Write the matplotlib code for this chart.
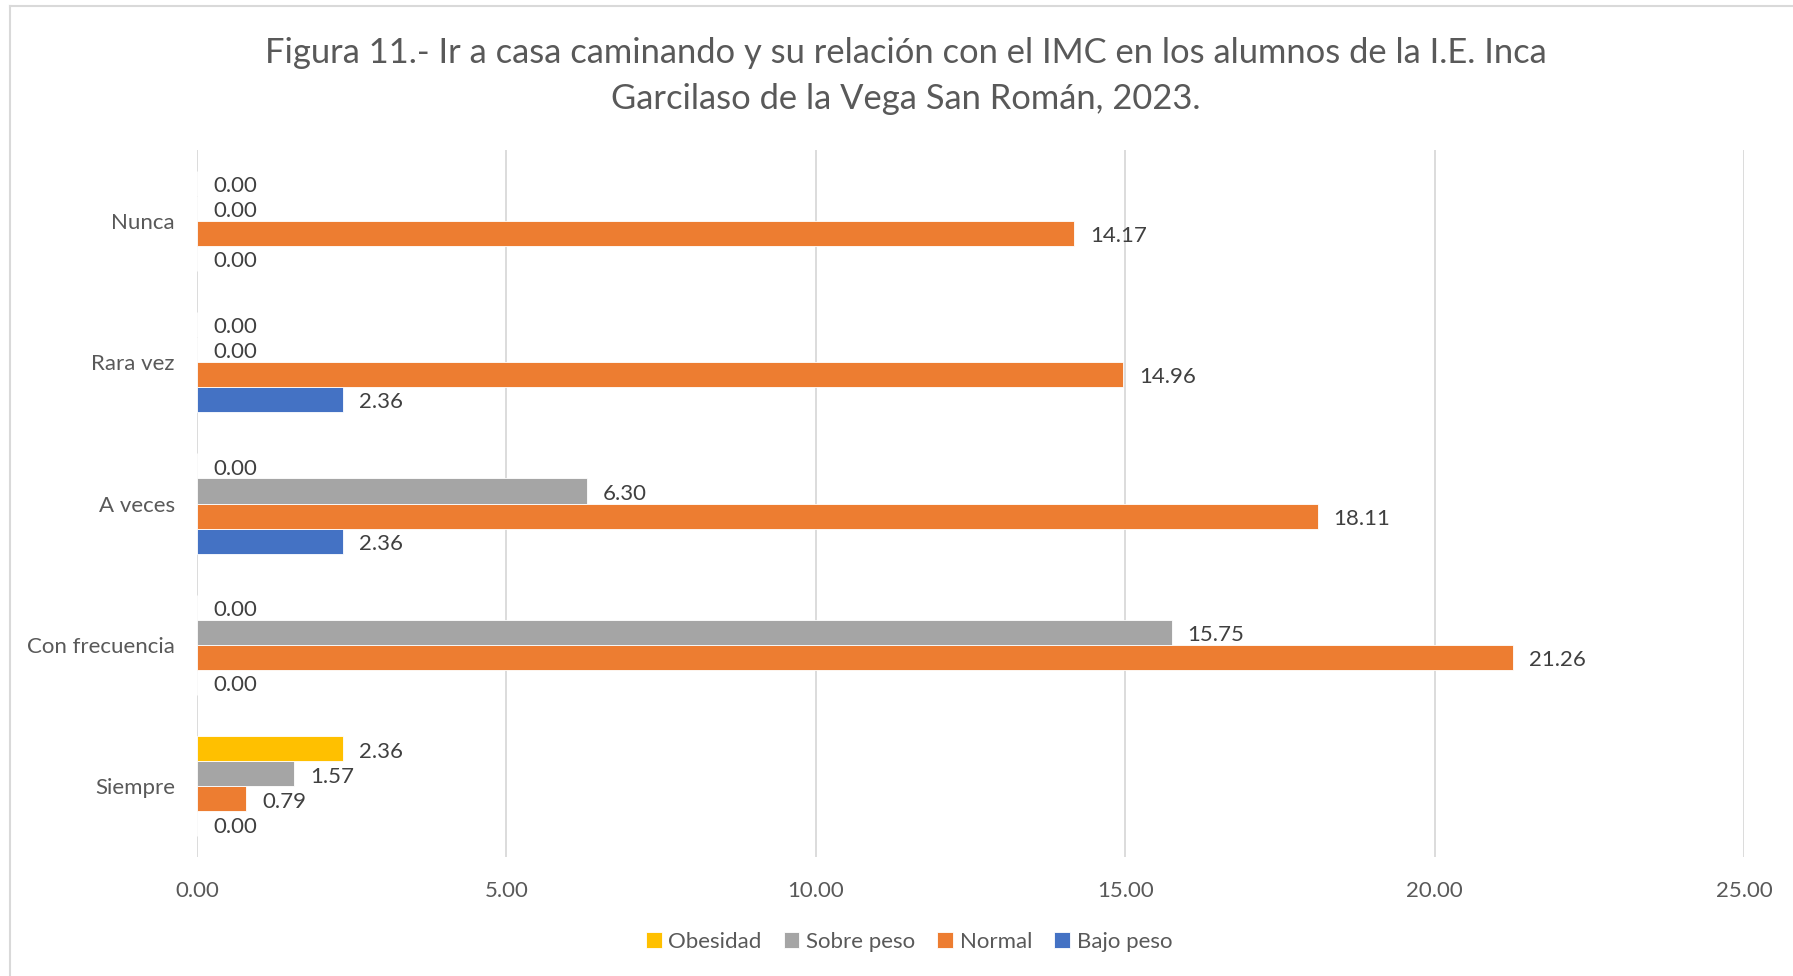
import matplotlib.pyplot as plt
import numpy as np
from matplotlib.lines import Line2D

plt.rcParams['font.family'] = ['Lato', 'DejaVu Sans']

categorias = ['Siempre', 'Con frecuencia', 'A veces', 'Rara vez', 'Nunca']
series = ['Bajo peso', 'Normal', 'Sobre peso', 'Obesidad']
bajo_peso = [0.00, 0.00, 2.36, 2.36, 0.00]
normal = [0.79, 21.26, 18.11, 14.96, 14.17]
sobre_peso = [1.57, 15.75, 6.30, 0.00, 0.00]
obesidad = [2.36, 0.00, 0.00, 0.00, 0.00]
colores = ['#4472C4', '#ED7D31', '#A5A5A5', '#FFC000']
xticks = [0, 5, 10, 15, 20, 25]

texto = '#595959'

fig = plt.figure(figsize=(17.93, 9.76), dpi=100)
ax = fig.add_axes([0.1099, 0.1219, 0.8628, 0.7244])

y = np.arange(len(categorias))
h = 0.177
valores = [bajo_peso, normal, sobre_peso, obesidad]
for i, (nombre, vals, c) in enumerate(zip(series, valores, colores)):
    off = (i - 1.5) * h
    ax.barh(y + off, vals, height=h, color=c, label=nombre,
            edgecolor='white', linewidth=0.6, zorder=3)
    for yy, v in zip(y + off, vals):
        ax.annotate('%.2f' % v, (v, yy), xytext=(11.5, -2), textcoords='offset points',
                    ha='left', va='center', fontsize=16, color='#404040')

ax.set_xlim(0, 25)
ax.set_ylim(-0.5, len(categorias) - 0.5)
ax.set_xticks(xticks)
ax.set_xticklabels(['%.2f' % t for t in xticks], fontsize=16, color=texto)
ax.set_yticks(y)
ax.set_yticklabels(categorias, fontsize=16, color=texto)
ax.tick_params(axis='both', length=0)
ax.tick_params(axis='x', pad=17)
ax.tick_params(axis='y', pad=16)
ax.grid(axis='x', color='#D9D9D9', linewidth=1.3, zorder=0)
for s in ax.spines.values():
    s.set_visible(False)

fig.suptitle('Figura 11.- Ir a casa caminando y su relación con el IMC en los alumnos de la I.E. Inca\n'
             'Garcilaso de la Vega San Román, 2023.',
             x=0.505, y=0.962, fontsize=24.8, color=texto, linespacing=1.52)

handles, labels = ax.get_legend_handles_labels()
ax.legend(handles[::-1], labels[::-1], loc='center', bbox_to_anchor=(0.507, 0.035),
          bbox_transform=fig.transFigure, ncol=4, frameon=False, fontsize=16,
          labelcolor=texto, handlelength=0.7, handleheight=0.7, handletextpad=0.3,
          columnspacing=1.0)

# marco del gráfico
fig.add_artist(Line2D([10 / 1793, 10 / 1793], [0, 1 - 6 / 976], color='#D9D9D9', linewidth=1.5))
fig.add_artist(Line2D([10 / 1793, 1], [1 - 6 / 976, 1 - 6 / 976], color='#D9D9D9', linewidth=1.5))

fig.savefig('out.png', dpi=100)
